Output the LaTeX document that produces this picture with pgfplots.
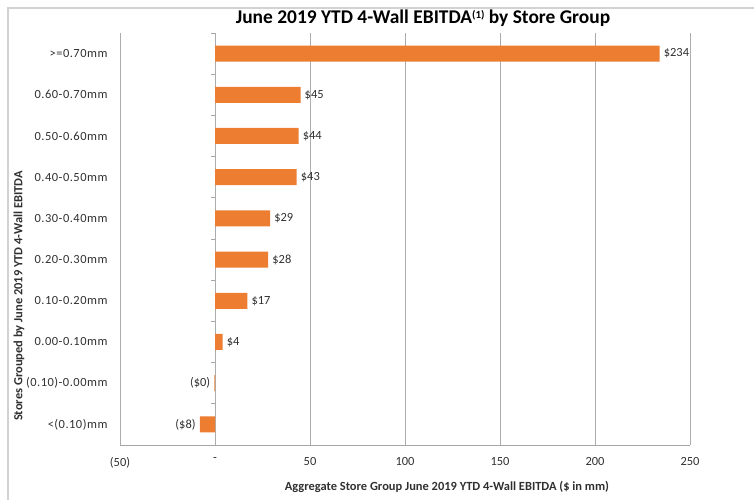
\documentclass[border=0pt]{standalone}
\usepackage{fontspec}
\setmainfont{Carlito}
\newfontfamily\spacedfont{Carlito}[LetterSpace=4]
\usepackage{pgfplots}
\pgfplotsset{compat=1.18}
\definecolor{barorange}{HTML}{ED7D31}
\definecolor{txt}{HTML}{303030}
\begin{document}
\begin{tikzpicture}[x=1bp,y=1bp]
\path[use as bounding box] (0,0) rectangle (754,500);
\draw[gray!35, line width=1.2bp] (8,0) -- (8,492) -- (754,492);
\begin{axis}[
  at={(120bp,55bp)}, anchor=south west,
  scale only axis, width=570bp, height=412bp,
  xmin=-50, xmax=250, ymin=-0.5, ymax=9.5,
  xbar, bar width=16bp, bar shift=0pt,
  axis lines*=left,
  x axis line style={-, draw=gray!70},
  y axis line style={draw=none},
  major tick length=0pt,
  xtick={-50,0,50,100,150,200,250},
  xticklabels={(50),-,50,100,150,200,250},
  ytick={0,...,9},
  yticklabels={{<(0.10)mm},{(0.10)-0.00mm},{0.00-0.10mm},{0.10-0.20mm},{0.20-0.30mm},{0.30-0.40mm},{0.40-0.50mm},{0.50-0.60mm},{0.60-0.70mm},{>=0.70mm}},
  xmajorgrids, grid style={gray!65, line width=0.6bp},
  /pgf/number format/assume math mode=true,
  xticklabel style={font=\fontsize{12.5}{14}\selectfont, text=txt, yshift=-9bp},
  yticklabel style={font=\spacedfont\fontsize{12.5}{15}\selectfont, text=txt, xshift=-9bp},
  point meta=explicit symbolic,
  nodes near coords,
  every node near coord/.append style={font=\fontsize{12.5}{14}\selectfont, text=txt, inner sep=4bp},
  clip=false,
]
\addplot[fill=barorange, draw=none, nodes near coords style={anchor=east}] coordinates {
  (-8,0) [(\$8)]
  (-0.3,1) [(\$0)]
};
\addplot[fill=barorange, draw=none, nodes near coords style={anchor=west}] coordinates {
  (4,2) [\$4]
  (17,3) [\$17]
  (28,4) [\$28]
  (29,5) [\$29]
  (43,6) [\$43]
  (44,7) [\$44]
  (45,8) [\$45]
  (234,9) [\$234]
};
\pgfplotsinvokeforeach{-0.5,0.5,1.5,2.5,3.5,4.5,5.5,6.5,7.5,8.5,9.5}{
  \draw[gray!70, line width=0.6bp] (axis cs:0,#1) -- ([xshift=-4bp]axis cs:0,#1);
}
\end{axis}
\node[font=\fontsize{19.5}{22}\selectfont\bfseries, text=black] at (423,482) {June 2019 YTD 4-Wall EBITDA\raisebox{0.55ex}{\fontsize{11}{12}\selectfont(1)} by Store Group};
\node[font=\fontsize{12.5}{14}\selectfont\bfseries, text=txt] at (447,13) {Aggregate Store Group June 2019 YTD 4-Wall EBITDA (\$ in mm)};
\node[font=\fontsize{12.5}{14}\selectfont\bfseries, text=txt, rotate=90] at (19,204) {Stores Grouped by June 2019 YTD 4-Wall EBITDA};
\end{tikzpicture}
\end{document}
